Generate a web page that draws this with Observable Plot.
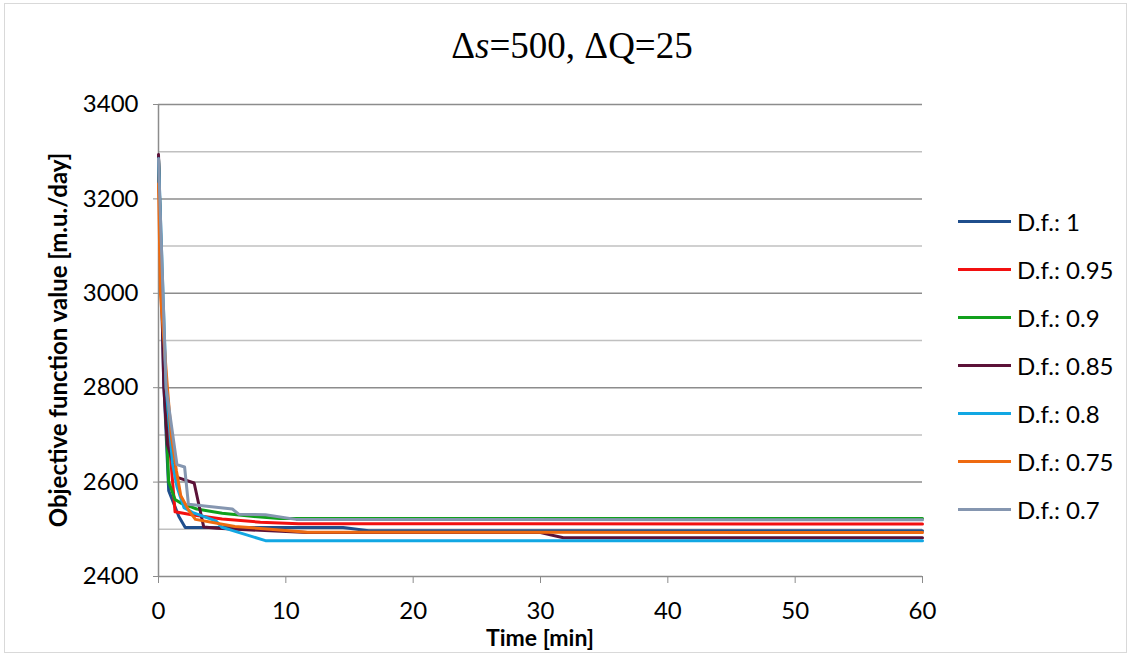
<!DOCTYPE html>
<html>
<head>
<meta charset="utf-8">
<script src="https://cdn.jsdelivr.net/npm/d3@7"></script>
<script src="https://cdn.jsdelivr.net/npm/@observablehq/plot@0.6"></script>
<style>
  body { margin: 0; background: #fff; }
  #wrap { position: relative; width: 1132px; height: 655px; font-family: Lato, "Open Sans", sans-serif; color: #000; }
  #frame { position: absolute; left: 4px; top: 3px; width: 1123px; height: 650px; border: 1px solid #d9d9d9; box-sizing: border-box; }
  #chart { position: absolute; left: 0; top: 0; }
  #title { position: absolute; left: 572px; top: 24px; transform: translateX(-50%); font-family: "Liberation Serif", serif; font-size: 37px; white-space: nowrap; }
  #ylab { position: absolute; left: 57px; top: 340px; transform: translate(-50%, -50%) rotate(-90deg); font-weight: bold; font-size: 24px; white-space: nowrap; }
  #xlab { position: absolute; left: 540px; top: 637px; transform: translate(-50%, -50%); font-weight: bold; font-size: 23px; white-space: nowrap; line-height: 1; }
  .leg { position: absolute; left: 958px; height: 30px; transform: translateY(-50%); display: flex; align-items: center; font-size: 24px; white-space: nowrap; }
  .leg .sw { width: 53px; height: 3px; margin-right: 6px; }
</style>
</head>
<body>
<div id="wrap">
  <div id="frame"></div>
  <div id="chart"></div>
  <div id="title">Δ<i>s</i>=500, ΔQ=25</div>
  <div id="ylab">Objective function value [m.u./day]</div>
  <div id="xlab">Time [min]</div>
  <div id="legend"></div>
</div>
<script>
// Series names and colours
const seriesNames = ["D.f.: 1", "D.f.: 0.95", "D.f.: 0.9", "D.f.: 0.85", "D.f.: 0.8", "D.f.: 0.75", "D.f.: 0.7"];
const seriesColors = ["#1f4e8c", "#f21010", "#11a01c", "#5c1238", "#12a7e3", "#ee6a10", "#8596b0"];

// Time [min] and objective values per series
const tDf100 = [0, 0.4, 0.8, 1.6, 2.1, 14.5, 16.5, 60];
const vDf100 = [3288, 2820, 2582, 2527, 2504, 2504, 2497, 2497];
const tDf095 = [0, 0.5, 1.3, 2.6, 5, 8, 11, 60];
const vDf095 = [3286, 2800, 2537, 2531, 2522, 2515, 2512, 2511];
const tDf090 = [0, 0.5, 0.8, 1.3, 1.8, 3, 5, 7.5, 9.5, 60];
const vDf090 = [3286, 2790, 2600, 2563, 2555, 2543, 2534, 2527, 2523, 2523];
const tDf085 = [0, 0.42, 0.7, 1.47, 2.8, 3.55, 4.6, 11.7, 30, 31.8, 60];
const vDf085 = [3294, 2800, 2680, 2610, 2598, 2505, 2502, 2493, 2493, 2482, 2482];
const tDf080 = [0, 0.6, 1.1, 1.45, 2.0, 2.65, 4.5, 5.0, 8.4, 60];
const vDf080 = [3285, 2800, 2640, 2590, 2546, 2536, 2518, 2504, 2476, 2476];
const tDf075 = [0, 0.15, 0.7, 1.0, 1.4, 1.75, 2.4, 2.9, 6, 11.7, 60];
const vDf075 = [3232, 3000, 2800, 2700, 2625, 2571, 2539, 2521, 2506, 2494, 2493];
const tDf070 = [0, 0.6, 1.45, 2.05, 2.35, 5.8, 6.3, 8.4, 10.8, 60];
const vDf070 = [3285, 2800, 2637, 2632, 2553, 2543, 2532, 2531, 2521, 2520];

const times = [tDf100, tDf095, tDf090, tDf085, tDf080, tDf075, tDf070];
const values = [vDf100, vDf095, vDf090, vDf085, vDf080, vDf075, vDf070];

const xTicks = [0, 10, 20, 30, 40, 50, 60];
const yMajor = [2400, 2600, 2800, 3000, 3200, 3400];
const yMinor = [2500, 2700, 2900, 3100, 3300];

const data = [];
seriesNames.forEach((s, i) => times[i].forEach((t, j) => data.push({s, t, v: values[i][j]})));

const W = 1132, H = 655;
const plot = Plot.plot({
  width: W, height: H,
  marginLeft: 158, marginRight: W - 922, marginTop: 104, marginBottom: H - 576,
  style: {fontFamily: "Lato, 'Open Sans', sans-serif", fontSize: "24px", background: "transparent", color: "#000", overflow: "visible"},
  x: {domain: [0, 60]},
  y: {domain: [2400, 3400]},
  color: {domain: seriesNames, range: seriesColors},
  marks: [
    Plot.ruleY(yMinor, {stroke: "#c0c0c0", strokeWidth: 1.5}),
    Plot.ruleY(yMajor.filter(d => d > 2400), {stroke: "#8c8c8c", strokeWidth: 1.5}),
    Plot.axisY({ticks: yMajor, tickFormat: d => String(d), tickSize: 5, tickPadding: 15, stroke: "#8c8c8c", fill: "#000", label: null, fontSize: 24}),
    Plot.axisX({ticks: xTicks, tickFormat: d => String(d), tickSize: 7, tickPadding: 18, stroke: "#8c8c8c", fill: "#000", label: null, fontSize: 24}),
    Plot.ruleX([0], {stroke: "#8c8c8c", strokeWidth: 1.5}),
    Plot.ruleY([2400], {stroke: "#8c8c8c", strokeWidth: 1.5}),
    Plot.line(data, {x: "t", y: "v", z: "s", stroke: "s", strokeWidth: 3, strokeLinejoin: "round"})
  ]
});
document.getElementById("chart").appendChild(plot);

// Legend
const legend = document.getElementById("legend");
seriesNames.forEach((s, i) => {
  const row = document.createElement("div");
  row.className = "leg";
  row.style.top = (221 + i * 48) + "px";
  row.innerHTML = `<span class="sw" style="background:${seriesColors[i]}"></span><span>${s}</span>`;
  legend.appendChild(row);
});
</script>
</body>
</html>
